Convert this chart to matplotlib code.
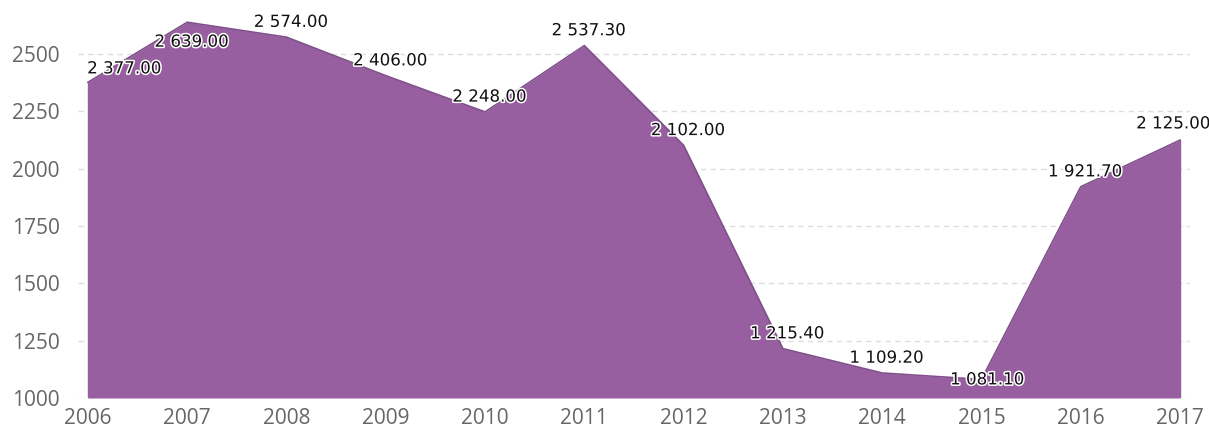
"""Area chart of yearly values with labelled points."""

import matplotlib
matplotlib.use("Agg")
import matplotlib.pyplot as plt
import matplotlib.patheffects as pe

years = [2006, 2007, 2008, 2009, 2010, 2011, 2012, 2013, 2014, 2015, 2016, 2017]
values = [2377.00, 2639.00, 2574.00, 2406.00, 2248.00, 2537.30,
          2102.00, 1215.40, 1109.20, 1081.10, 1921.70, 2125.00]
y_ticks = [1000, 1250, 1500, 1750, 2000, 2250, 2500]

# label offsets in points (dx, dy); most sit just above the point
label_offsets = {2006: (26, 10), 2007: (3, -14), 2015: (4, 0), 2017: (-5, 12)}

fill_color = "#975fa0"
edge_color = "#80508a"

plt.rcParams["font.family"] = ["Open Sans", "DejaVu Sans"]

fig = plt.figure(figsize=(12.09, 4.33), dpi=100)
ax = fig.add_axes([78 / 1209, 0.0808, 1112 / 1209, 0.9192])

ax.fill_between(years, 1000, values, color=fill_color, linewidth=0, zorder=2)
ax.plot(years, values, color=edge_color, linewidth=1.2, zorder=3)
ax.vlines([years[0], years[-1]], 1000, [values[0], values[-1]],
          color=fill_color, linewidth=1, zorder=2)

for x, v in zip(years, values):
    dx, dy = label_offsets.get(x, (3, 11))
    txt = f"{v:,.2f}".replace(",", " ")
    ax.annotate(txt, (x, v), xytext=(dx, dy), textcoords="offset points",
                ha="center", va="center", fontsize=12, color="#111111",
                family="DejaVu Sans", zorder=5,
                path_effects=[pe.withStroke(linewidth=2.2, foreground="white")])

ax.set_xlim(2005.9, 2017.1)
ax.set_ylim(1000, 2736)
ax.set_xticks(years)
ax.set_yticks(y_ticks)
ax.tick_params(axis="both", length=0, labelsize=15, colors="#666666")
ax.tick_params(axis="y", pad=13)
ax.tick_params(axis="x", pad=7)

ax.grid(axis="y", color="#dddddd", linestyle=(0, (4, 3)), linewidth=1, zorder=1)
for s in ax.spines.values():
    s.set_visible(False)

fig.savefig("out.png", dpi=100)
